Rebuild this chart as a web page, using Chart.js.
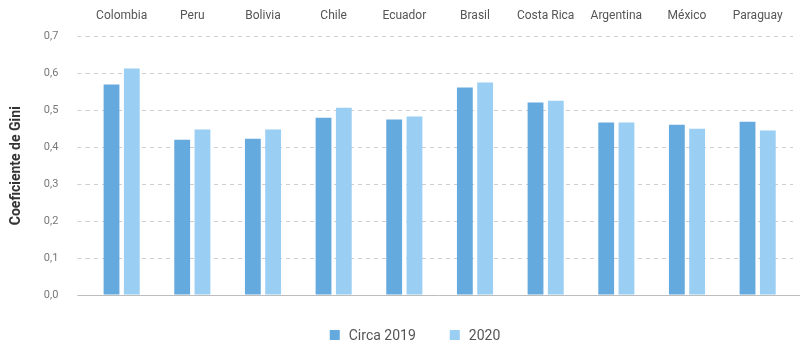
<!DOCTYPE html>
<html>
<head>
<meta charset="utf-8">
<script src="https://cdn.jsdelivr.net/npm/chart.js@4/dist/chart.umd.min.js"></script>
<style>
  html, body { margin: 0; padding: 0; background: #fff; }
  #wrap { width: 801px; height: 347px; }
</style>
</head>
<body>
<div id="wrap"><canvas id="chart"></canvas></div>
<script>
const paises = ['Colombia', 'Peru', 'Bolivia', 'Chile', 'Ecuador', 'Brasil', 'Costa Rica', 'Argentina', 'México', 'Paraguay'];
const circa2019 = [0.570, 0.420, 0.423, 0.480, 0.475, 0.562, 0.521, 0.467, 0.461, 0.469];
const ano2020 = [0.613, 0.448, 0.448, 0.507, 0.483, 0.575, 0.526, 0.467, 0.450, 0.445];
const yTicks = [0, 0.1, 0.2, 0.3, 0.4, 0.5, 0.6, 0.7];

const FONT = 'Roboto, "Noto Sans", sans-serif';

// linha sólida no zero
const baseLine = {
  id: 'baseLine',
  afterDatasetsDraw(chart) {
    const { ctx, chartArea, scales } = chart;
    const y = Math.round(scales.y.getPixelForValue(0)) + 0.5;
    ctx.save();
    ctx.strokeStyle = '#bdbdbd';
    ctx.lineWidth = 1;
    ctx.beginPath();
    ctx.moveTo(chartArea.left - 9, y);
    ctx.lineTo(chartArea.right + 7, y);
    ctx.stroke();
    ctx.restore();
  }
};

// legenda embaixo, itens mais espaçados que a legenda padrão
const legendaBaixo = {
  id: 'legendaBaixo',
  afterDraw(chart) {
    const { ctx } = chart;
    const box = 10, gapTexto = 9, gapItem = 34;
    ctx.save();
    ctx.font = '14px ' + FONT;
    ctx.textBaseline = 'middle';
    const itens = chart.data.datasets.map(ds => ({
      texto: ds.label, cor: ds.backgroundColor, w: ctx.measureText(ds.label).width
    }));
    const total = itens.reduce((s, it) => s + box + gapTexto + it.w, 0) + gapItem * (itens.length - 1);
    let x = 415 - total / 2;
    const y = 335;
    itens.forEach(it => {
      ctx.fillStyle = it.cor;
      ctx.fillRect(x, y - box / 2, box, box);
      ctx.fillStyle = '#555';
      ctx.fillText(it.texto, x + box + gapTexto, y + 1);
      x += box + gapTexto + it.w + gapItem;
    });
    ctx.restore();
  }
};

Chart.defaults.font.family = FONT;

new Chart(document.getElementById('chart'), {
  type: 'bar',
  data: {
    labels: paises,
    datasets: [
      { label: 'Circa 2019', data: circa2019, backgroundColor: '#64aadf' },
      { label: '2020', data: ano2020, backgroundColor: '#9acef3' }
    ]
  },
  options: {
    responsive: true,
    maintainAspectRatio: false,
    animation: false,
    layout: { padding: { left: 6, right: 8, top: 4, bottom: 52 } },
    datasets: { bar: { categoryPercentage: 0.574, barPercentage: 0.78 } },
    plugins: {
      legend: { display: false },
      tooltip: { enabled: false }
    },
    scales: {
      x: {
        position: 'top',
        grid: { display: false },
        border: { display: false },
        ticks: { color: '#555', font: { size: 12 }, padding: 5 }
      },
      y: {
        min: 0, max: 0.7,
        afterBuildTicks: axis => { axis.ticks = yTicks.map(v => ({ value: v })); },
        ticks: {
          color: '#777', font: { size: 11 }, padding: 19,
          callback: v => v.toFixed(1).replace('.', ',')
        },
        grid: {
          color: ctx => ctx.tick && ctx.tick.value === 0 ? 'rgba(0,0,0,0)' : '#cfcfcf',
          tickColor: ctx => ctx.tick && ctx.tick.value === 0 ? 'rgba(0,0,0,0)' : '#cfcfcf',
          tickLength: 9,
          tickBorderDash: [4, 4]
        },
        border: { display: false, dash: [4, 4] },
        title: {
          display: true, text: 'Coeficiente de Gini',
          color: '#333', font: { size: 14, weight: 'bold' }, padding: { top: 2, bottom: 0 }
        }
      }
    }
  },
  plugins: [baseLine, legendaBaixo]
});
</script>
</body>
</html>
